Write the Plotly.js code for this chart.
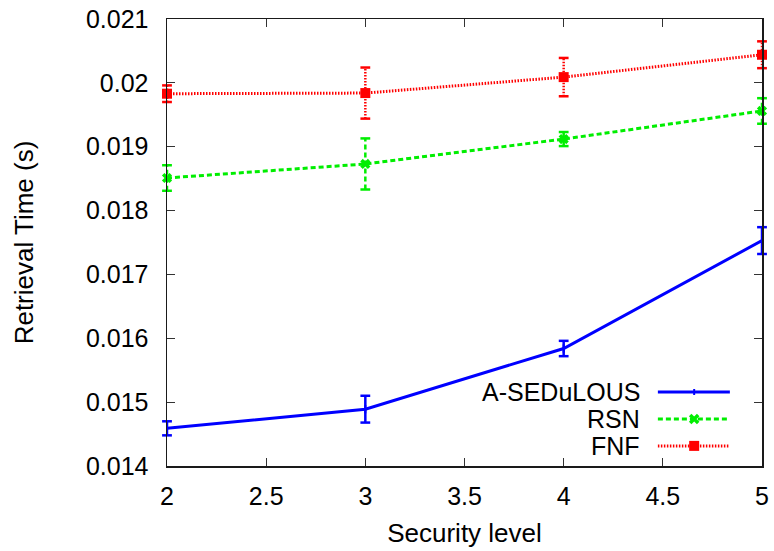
<!DOCTYPE html>
<html>
<head>
<meta charset="utf-8">
<script src="https://cdn.plot.ly/plotly-3.0.1.min.js"></script>
<style>
  html, body { margin: 0; padding: 0; background: #fff; }
  #chart { width: 774px; height: 551px; }
</style>
</head>
<body>
<div id="chart"></div>
<script>
// Retrieval time per security level, mean and error for each scheme
const securityLevels = [2, 3, 4, 5];

const asedulousTime = [0.01459, 0.01489, 0.01584, 0.01753];
const asedulousErr  = [0.00011, 0.00021, 0.00012, 0.00021];

const rsnTime = [0.01851, 0.01873, 0.01912, 0.01956];
const rsnErr  = [0.00020, 0.00040, 0.00011, 0.00020];

const fnfTime = [0.01983, 0.01984, 0.02009, 0.02044];
const fnfErr  = [0.00013, 0.00040, 0.00030, 0.00021];

const seriesNames = ['A-SEDuLOUS', 'RSN', 'FNF'];

const xTickVals = [2, 2.5, 3, 3.5, 4, 4.5, 5];
const xTickText = ['2', '2.5', '3', '3.5', '4', '4.5', '5'];
const yTickVals = [0.014, 0.015, 0.016, 0.017, 0.018, 0.019, 0.020, 0.021];
const yTickText = ['0.014', '0.015', '0.016', '0.017', '0.018', '0.019', '0.02', '0.021'];

const FONT = 'Liberation Sans, Arial, Helvetica, sans-serif';

const styles = [
  { color: '#0000ff', dash: 'solid',        width: 3,   symbol: 'line-ns', size: 6 },
  { color: '#00ee00', dash: '5px,3px',      width: 3,   symbol: 'x',       size: 9 },
  { color: '#ff0000', dash: '1.5px,1.5px',  width: 3,   symbol: 'square',  size: 10 }
];

const dataSets = [
  [asedulousTime, asedulousErr],
  [rsnTime, rsnErr],
  [fnfTime, fnfErr]
];

// Error bars drawn as segments so they share the series' dash pattern
function errorSegments(xs, ys, es) {
  const x = [], y = [];
  xs.forEach((xv, i) => {
    x.push(xv, xv, null);
    y.push(ys[i] - es[i], ys[i] + es[i], null);
  });
  return { x, y };
}

const traces = [];
dataSets.forEach(([vals, errs], k) => {
  const st = styles[k];
  const seg = errorSegments(securityLevels, vals, errs);
  traces.push({
    x: seg.x, y: seg.y,
    type: 'scatter', mode: 'lines+markers',
    line: { color: st.color, width: 2.5, dash: st.dash },
    marker: { symbol: 'line-ew', size: 7, line: { color: st.color, width: 2.5 } },
    connectgaps: false, cliponaxis: false, hoverinfo: 'skip', showlegend: false
  });
  traces.push({
    x: securityLevels, y: vals, name: seriesNames[k],
    type: 'scatter', mode: 'lines+markers',
    line: { color: st.color, width: st.width, dash: st.dash },
    marker: {
      symbol: st.symbol, size: st.size, color: st.color,
      line: { color: st.color, width: st.symbol === 'line-ns' ? 2 : 0 }
    },
    cliponaxis: false, showlegend: false
  });
});

// Key in the lower-right corner: label on the left, line sample on the right
const keyRows = [0.1655, 0.105, 0.045];
const keyX0 = 0.825, keyX1 = 0.946, keyMid = 0.886, keyText = 0.798;

const shapes = [];
const annotations = [];
keyRows.forEach((yy, k) => {
  const st = styles[k];
  shapes.push({
    type: 'line', xref: 'paper', yref: 'paper',
    x0: keyX0, x1: keyX1, y0: yy, y1: yy,
    line: { color: st.color, width: st.width, dash: st.dash }
  });
  annotations.push({
    xref: 'paper', yref: 'paper', x: keyText, y: yy,
    xanchor: 'right', yanchor: 'middle', showarrow: false,
    text: seriesNames[k], font: { family: FONT, size: 25, color: '#000' }
  });
});
// key markers
const px = 1 / 595, py = 1 / 447;
shapes.push({
  type: 'line', xref: 'paper', yref: 'paper',
  x0: keyMid, x1: keyMid, y0: keyRows[0] - 3 * py, y1: keyRows[0] + 3 * py,
  line: { color: styles[0].color, width: 2 }
});
shapes.push({
  type: 'path', xref: 'paper', yref: 'paper',
  path: `M ${keyMid - 4 * px} ${keyRows[1] - 4 * py} L ${keyMid + 4 * px} ${keyRows[1] + 4 * py} ` +
        `M ${keyMid - 4 * px} ${keyRows[1] + 4 * py} L ${keyMid + 4 * px} ${keyRows[1] - 4 * py}`,
  line: { color: styles[1].color, width: 3.5 }
});
shapes.push({
  type: 'rect', xref: 'paper', yref: 'paper',
  x0: keyMid - 5 * px, x1: keyMid + 5 * px, y0: keyRows[2] - 5 * py, y1: keyRows[2] + 5 * py,
  fillcolor: styles[2].color, line: { width: 0 }
});

const axisCommon = {
  showline: true, mirror: 'ticks', linecolor: '#1a1a1a', linewidth: 1.5,
  ticks: 'inside', ticklen: 8, tickwidth: 1, tickcolor: '#333',
  showgrid: false, zeroline: false, automargin: false,
  tickfont: { family: FONT, size: 25, color: '#000' }
};

const layout = {
  width: 774, height: 551,
  margin: { l: 167, r: 12, t: 19, b: 85 },
  paper_bgcolor: '#fff', plot_bgcolor: '#fff',
  showlegend: false,
  xaxis: Object.assign({}, axisCommon, {
    range: [2, 5], tickmode: 'array', tickvals: xTickVals, ticktext: xTickText,
    ticklabelstandoff: 7,
    title: { text: 'Security level', font: { family: FONT, size: 26, color: '#000' }, standoff: 15 }
  }),
  yaxis: Object.assign({}, axisCommon, {
    range: [0.014, 0.021], tickmode: 'array', tickvals: yTickVals, ticktext: yTickText,
    ticklabelstandoff: 12,
    title: { text: 'Retrieval Time (s)', font: { family: FONT, size: 26, color: '#000' }, standoff: 45 }
  }),
  shapes: shapes,
  annotations: annotations
};

Plotly.newPlot('chart', traces, layout, { displayModeBar: false, staticPlot: true });
</script>
</body>
</html>
